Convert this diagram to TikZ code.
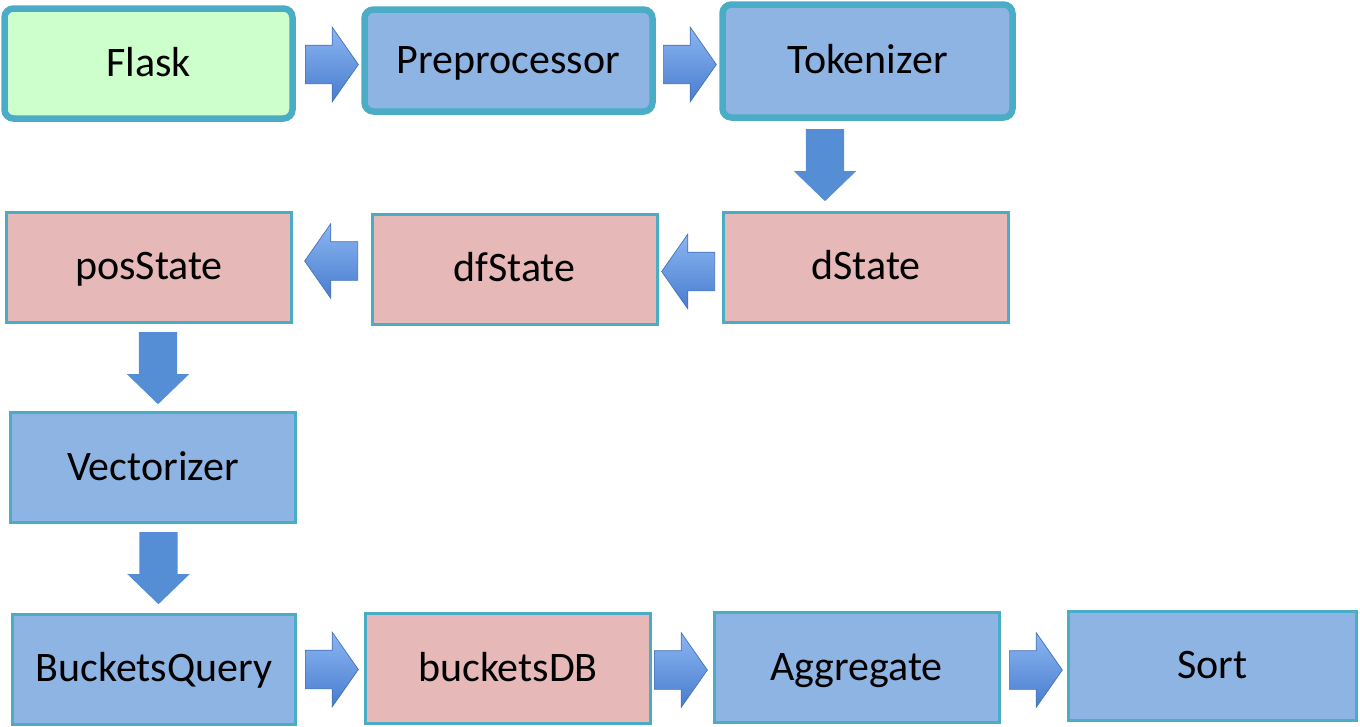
\documentclass[tikz,border=0pt]{standalone}
\usepackage{fontspec}
\setmainfont{Carlito}
\usepackage{tikz}
\usetikzlibrary{shapes.arrows,calc}
\definecolor{edge}{RGB}{75,172,198}
\definecolor{greenfill}{RGB}{204,255,204}
\definecolor{bluefill}{RGB}{142,180,227}
\definecolor{pinkfill}{RGB}{230,185,184}
\definecolor{arrlight}{RGB}{140,182,242}
\definecolor{arrdark}{RGB}{72,124,206}
\definecolor{arrline}{RGB}{70,115,185}
\definecolor{downfill}{RGB}{85,142,213}

\begin{document}
\begin{tikzpicture}[x=1pt,y=-1pt,
  topbox/.style={draw=edge,line width=6.5pt,rounded corners=9pt,minimum width=288pt,minimum height=110pt,text height=25pt,text depth=0pt,font=\fontsize{42}{50}\selectfont},
  box/.style={draw=edge,line width=3pt,minimum width=285pt,minimum height=110pt,text height=25pt,text depth=0pt,font=\fontsize{42}{50}\selectfont},
  rarrow/.style={single arrow,anchor=tail,draw=arrline,line width=0.7pt,top color=arrlight,bottom color=arrdark,inner xsep=0pt,inner ysep=19pt,minimum height=53pt,single arrow head extend=18pt,single arrow tip angle=110},
  larrow/.style={rarrow,rotate=180},
  darrow/.style={single arrow,anchor=tail,fill=downfill,inner xsep=0pt,inner ysep=19pt,minimum height=72pt,single arrow head extend=12pt,single arrow tip angle=92,rotate=-90}]
\useasboundingbox (0,0) rectangle (1360,726);
\node[topbox,fill=greenfill] (flask) at (148.5,63.5) {Flask};
\node[topbox,fill=bluefill,minimum height=102pt] (prep) at (508.5,60.5) {Preprocessor};
\node[topbox,fill=bluefill,minimum width=290pt,minimum height=113pt] (tok) at (867.5,61) {Tokenizer};
\node[box,fill=pinkfill] (dstate) at (866,267) {dState};
\node[box,fill=pinkfill] (dfstate) at (514.5,269) {dfState};
\node[box,fill=pinkfill] (posstate) at (149,267) {posState};
\node[box,fill=bluefill] (vec) at (153,467.5) {Vectorizer};
\node[box,fill=bluefill,minimum width=283pt] (bq) at (154,669) {BucketsQuery};
\node[box,fill=pinkfill] (bdb) at (508,668.5) {bucketsDB};
\node[box,fill=bluefill] (agg) at (856.5,667.5) {Aggregate};
\node[box,fill=bluefill,minimum width=288pt,minimum height=109pt] (sort) at (1212.5,666) {Sort};
\node[rarrow] (a1) at ($(flask.east)+(9.25,1)$) {};
\node[rarrow] (a2) at ($(prep.east)+(7.25,4)$) {};
\node[darrow] (a3) at ($(tok.south)+(-42.5,8.25)$) {};
\node[larrow] (a4) at ($(dstate.west)+(-7,4.5)$) {};
\node[larrow] (a5) at ($(dfstate.west)+(-12.5,-8)$) {};
\node[darrow] (a6) at ($(posstate.south)+(9,8.5)$) {};
\node[darrow] (a7) at ($(vec.south)+(5.5,8)$) {};
\node[rarrow] (a8) at ($(bq.east)+(8,0.5)$) {};
\node[rarrow] (a9) at ($(bdb.east)+(2,1.5)$) {};
\node[rarrow] (a10) at ($(agg.east)+(8.5,2.5)$) {};
\end{tikzpicture}
\end{document}
